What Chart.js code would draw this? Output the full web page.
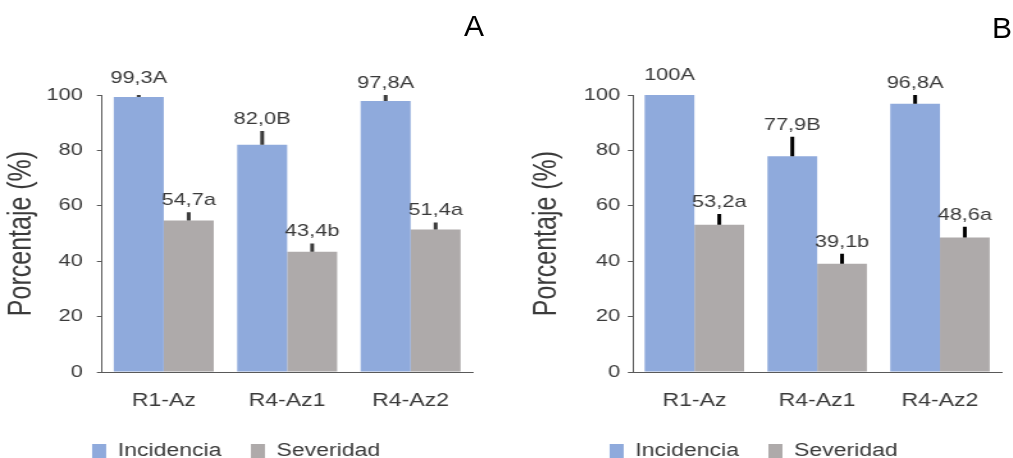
<!DOCTYPE html>
<html>
<head>
<meta charset="utf-8">
<script src="https://cdn.jsdelivr.net/npm/chart.js@4.4.1/dist/chart.umd.min.js"></script>
<style>
  body { margin: 0; background: #fff; }
  .panel { position: absolute; top: 0; width: 395px; height: 458px; transform: scaleX(1.28); transform-origin: 0 0; }
  .tag { position: absolute; font: 30px/30px "Liberation Sans", Arial, sans-serif; color: #000; }
</style>
</head>
<body>
<div class="panel" style="left:0"><canvas id="chartA" width="395" height="458"></canvas></div>
<div class="panel" style="left:506px"><canvas id="chartB" width="395" height="458"></canvas></div>
<div class="tag" style="left:464px;top:11px">A</div>
<div class="tag" style="left:992px;top:13px">B</div>
<script>
// Datos
const categorias = ['R1-Az', 'R4-Az1', 'R4-Az2'];

const incidenciaA = [99.3, 82.0, 97.8];
const incidenciaErrA = [2.6, 5.0, 2.2];
const incidenciaLblA = ['99,3A', '82,0B', '97,8A'];
const severidadA = [54.7, 43.4, 51.4];
const severidadErrA = [3.0, 3.0, 2.6];
const severidadLblA = ['54,7a', '43,4b', '51,4a'];

const incidenciaB = [100, 77.9, 96.8];
const incidenciaErrB = [2.9, 7.0, 3.2];
const incidenciaLblB = ['100A', '77,9B', '96,8A'];
const severidadB = [53.2, 39.1, 48.6];
const severidadErrB = [3.8, 3.6, 3.8];
const severidadLblB = ['53,2a', '39,1b', '48,6a'];

const yTicks = [0, 20, 40, 60, 80, 100];

const FONT = '"Liberation Sans", Arial, sans-serif';
const TXT = '#3a3a3a';

// barras de error (solo positivas) + etiquetas encima
const errorBars = {
    id: 'errorBars',
    afterDatasetsDraw(chart, args, opts) {
        const { ctx, chartArea } = chart;
        const y = chart.scales.y;
        chart.data.datasets.forEach((ds, i) => {
            chart.getDatasetMeta(i).data.forEach((bar, j) => {
                const top = y.getPixelForValue(ds.data[j] + ds.errores[j]);
                ctx.save();
                ctx.beginPath();
                ctx.rect(chartArea.left, chartArea.top, chartArea.width, chartArea.height);
                ctx.clip();
                ctx.strokeStyle = opts.color;
                ctx.lineWidth = opts.width;
                ctx.beginPath();
                ctx.moveTo(bar.x, bar.y);
                ctx.lineTo(bar.x, top);
                ctx.stroke();
                ctx.restore();

                ctx.save();
                ctx.fillStyle = TXT;
                ctx.font = '17px ' + FONT;
                ctx.textAlign = 'center';
                ctx.textBaseline = 'alphabetic';
                ctx.fillText(ds.etiquetas[j], bar.x, top - 7);
                ctx.restore();
            });
        });
    }
};

function crearGrafico(id, inc, incErr, incLbl, sev, sevErr, sevLbl, p) {
    return new Chart(document.getElementById(id), {
        type: 'bar',
        data: {
            labels: categorias,
            datasets: [{
                label: 'Incidencia',
                data: inc,
                errores: incErr,
                etiquetas: incLbl,
                backgroundColor: '#8FAADC',
                categoryPercentage: 0.81,
                barPercentage: 1
            }, {
                label: 'Severidad',
                data: sev,
                errores: sevErr,
                etiquetas: sevLbl,
                backgroundColor: '#AEAAAA',
                categoryPercentage: 0.81,
                barPercentage: 1
            }]
        },
        options: {
            responsive: false,
            animation: false,
            layout: { padding: { left: 0, right: p.right, top: 95, bottom: -12 } },
            scales: {
                x: {
                    grid: { drawOnChartArea: false, drawTicks: false },
                    border: { color: '#595959', width: 1 },
                    ticks: { color: TXT, font: { size: 18, family: FONT }, padding: 18 },
                    afterFit: s => { s.height = 47; }
                },
                y: {
                    min: 0,
                    max: 100,
                    afterBuildTicks: s => { s.ticks = yTicks.map(v => ({ value: v })); },
                    grid: { drawOnChartArea: false, tickLength: 4, color: '#595959' },
                    border: { color: '#595959', width: 1 },
                    ticks: { color: TXT, font: { size: 17, family: FONT }, padding: p.tickPad },
                    title: {
                        display: true,
                        text: 'Porcentaje (%)',
                        color: TXT,
                        font: { size: 25, family: FONT },
                        padding: { top: p.titlePad, bottom: 0 }
                    },
                    afterFit: s => { s.width = p.yWidth; }
                }
            },
            plugins: {
                legend: {
                    position: 'bottom',
                    labels: {
                        boxWidth: 11,
                        boxHeight: 14,
                        color: TXT,
                        font: { size: 18, family: FONT },
                        padding: 23
                    }
                },
                tooltip: { enabled: false },
                errorBars: { color: p.errColor, width: 3 }
            }
        },
        plugins: [errorBars]
    });
}

crearGrafico('chartA', incidenciaA, incidenciaErrA, incidenciaLblA, severidadA, severidadErrA, severidadLblA,
    { right: 26, yWidth: 79.7, tickPad: 11, titlePad: 2.2, errColor: '#3a3a3a' });
crearGrafico('chartB', incidenciaB, incidenciaErrB, incidenciaLblB, severidadB, severidadErrB, severidadLblB,
    { right: 8, yWidth: 99.2, tickPad: 6, titlePad: 17, errColor: '#000000' });
</script>
</body>
</html>
